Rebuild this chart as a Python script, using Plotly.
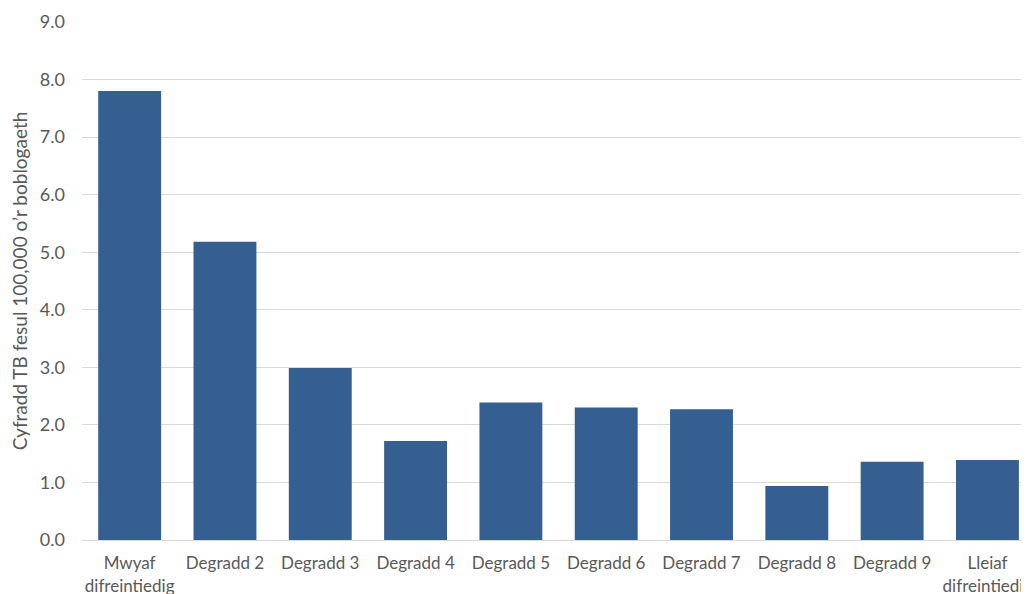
import plotly.graph_objects as go

categories = ["Mwyaf<br>difreintiedig", "Degradd 2", "Degradd 3", "Degradd 4", "Degradd 5",
              "Degradd 6", "Degradd 7", "Degradd 8", "Degradd 9", "Lleiaf<br>difreintiedig"]
values = [7.80, 5.18, 2.99, 1.72, 2.39, 2.30, 2.27, 0.94, 1.36, 1.39]
y_title = "Cyfradd TB fesul 100,000 o’r boblogaeth"
y_ticks = [0, 1, 2, 3, 4, 5, 6, 7, 8, 9]

font_family = "Lato, Open Sans, sans-serif"
grey = "#595959"

fig = go.Figure(go.Bar(
    x=list(range(len(categories))),
    y=values,
    marker=dict(color="#365F91", line=dict(width=0)),
    width=0.66,
))

fig.update_layout(
    width=1029, height=594,
    margin=dict(l=74, r=0, t=14, b=62, autoexpand=False),
    paper_bgcolor="white", plot_bgcolor="white",
    showlegend=False,
    font=dict(family=font_family, size=17, color=grey),
    xaxis=dict(
        tickmode="array", tickvals=list(range(len(categories))), ticktext=categories,
        range=[-0.5, 9.52], showgrid=False, zeroline=False,
        showline=True, linecolor="#d9d9d9", linewidth=1,
        ticks="", ticklabelstandoff=8, automargin=False,
        ticklabeloverflow="allow",
        tickfont=dict(size=17, color=grey),
    ),
    yaxis=dict(
        range=[0, 9], tickmode="array", tickvals=y_ticks,
        ticktext=[f"{v:.1f}" for v in y_ticks],
        showgrid=True, gridcolor="#d9d9d9", gridwidth=1,
        zeroline=False, showline=False, ticks="",
        ticklabelstandoff=16, automargin=False,
        tickfont=dict(size=18, color=grey),
        title=dict(text=y_title, font=dict(size=19, color=grey), standoff=12),
    ),
)

fig.write_html("out.html")
